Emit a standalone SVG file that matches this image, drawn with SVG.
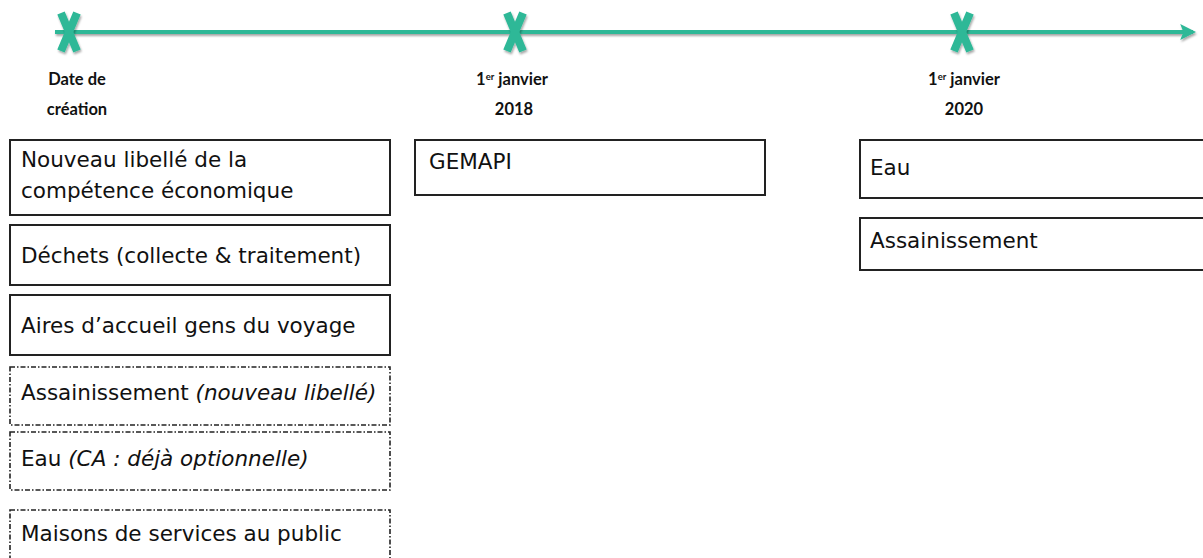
<svg xmlns="http://www.w3.org/2000/svg" width="1203" height="558" viewBox="0 0 1203 558">
<style>
.box{fill:#fff;stroke:#222;stroke-width:2}
.dash{fill:#fff;stroke:#222;stroke-width:1.6;stroke-dasharray:5 2 1.5 2}
.t{font-family:"DejaVu Sans",Verdana,sans-serif;font-size:21.5px;fill:#111}
.it{font-style:italic}
.lbl{font-family:Lato,"DejaVu Sans",sans-serif;font-weight:bold;font-size:16.5px;fill:#111;text-anchor:middle}
.sup{font-size:9.5px}
.tl{stroke:#2db897;stroke-width:4;fill:none}
.xm{stroke:#2db897;stroke-width:8;stroke-linecap:butt;fill:none}
</style>
<defs>
<filter id="sh" filterUnits="userSpaceOnUse" x="0" y="0" width="1203" height="80">
<feDropShadow dx="1" dy="2" stdDeviation="1.2" flood-color="#000" flood-opacity="0.35"/>
</filter>
<marker id="ah" viewBox="0 0 10 10" refX="8" refY="5" markerWidth="4" markerHeight="4" orient="auto" markerUnits="strokeWidth">
<path d="M0,0 L10,5 L0,10 L2,5 Z" fill="#2db897"/>
</marker>
</defs>
<g id="connectors" filter="url(#sh)">
<line class="tl" x1="55" y1="32" x2="1193" y2="32" marker-end="url(#ah)"/>
</g>
<g id="mark-creation" filter="url(#sh)">
<path class="xm" d="M61,13 L77,51 M77,13 L61,51"/>
</g>
<g id="mark-2018" filter="url(#sh)">
<path class="xm" d="M507,13 L523,51 M523,13 L507,51"/>
</g>
<g id="mark-2020" filter="url(#sh)">
<path class="xm" d="M954,13 L970,51 M970,13 L954,51"/>
</g>
<g id="label-creation">
<text class="lbl" x="77" y="85">Date de</text>
<text class="lbl" x="77" y="115">création</text>
</g>
<g id="label-2018">
<text class="lbl" x="512" y="85">1<tspan class="sup" dy="-5">er</tspan><tspan dy="5"> janvier</tspan></text>
<text class="lbl" x="514" y="115">2018</text>
</g>
<g id="label-2020">
<text class="lbl" x="964" y="85">1<tspan class="sup" dy="-5">er</tspan><tspan dy="5"> janvier</tspan></text>
<text class="lbl" x="964" y="115">2020</text>
</g>
<g id="box-eco">
<rect class="box" x="10" y="140" width="380" height="75"/>
<text class="t" x="21" y="167">Nouveau libellé de la</text>
<text class="t" x="21" y="198">compétence économique</text>
</g>
<g id="box-dechets">
<rect class="box" x="10" y="225" width="380" height="60"/>
<text class="t" x="21" y="263">Déchets (collecte &amp; traitement)</text>
</g>
<g id="box-aires">
<rect class="box" x="10" y="295" width="380" height="60"/>
<text class="t" x="21" y="333">Aires d’accueil gens du voyage</text>
</g>
<g id="box-assain-opt">
<rect class="dash" x="10" y="367" width="380" height="58"/>
<text class="t" x="21" y="400">Assainissement <tspan class="it">(nouveau libellé)</tspan></text>
</g>
<g id="box-eau-opt">
<rect class="dash" x="10" y="432" width="380" height="58"/>
<text class="t" x="21" y="466">Eau <tspan class="it">(CA : déjà optionnelle)</tspan></text>
</g>
<g id="box-msap">
<rect class="dash" x="10" y="510" width="380" height="60"/>
<text class="t" x="21" y="541">Maisons de services au public</text>
</g>
<g id="box-gemapi">
<rect class="box" x="415" y="140" width="350" height="55"/>
<text class="t" x="429" y="169">GEMAPI</text>
</g>
<g id="box-eau">
<rect class="box" x="860" y="140" width="360" height="58"/>
<text class="t" x="870" y="175">Eau</text>
</g>
<g id="box-assain">
<rect class="box" x="860" y="218" width="360" height="52"/>
<text class="t" x="870" y="248">Assainissement</text>
</g>
</svg>
